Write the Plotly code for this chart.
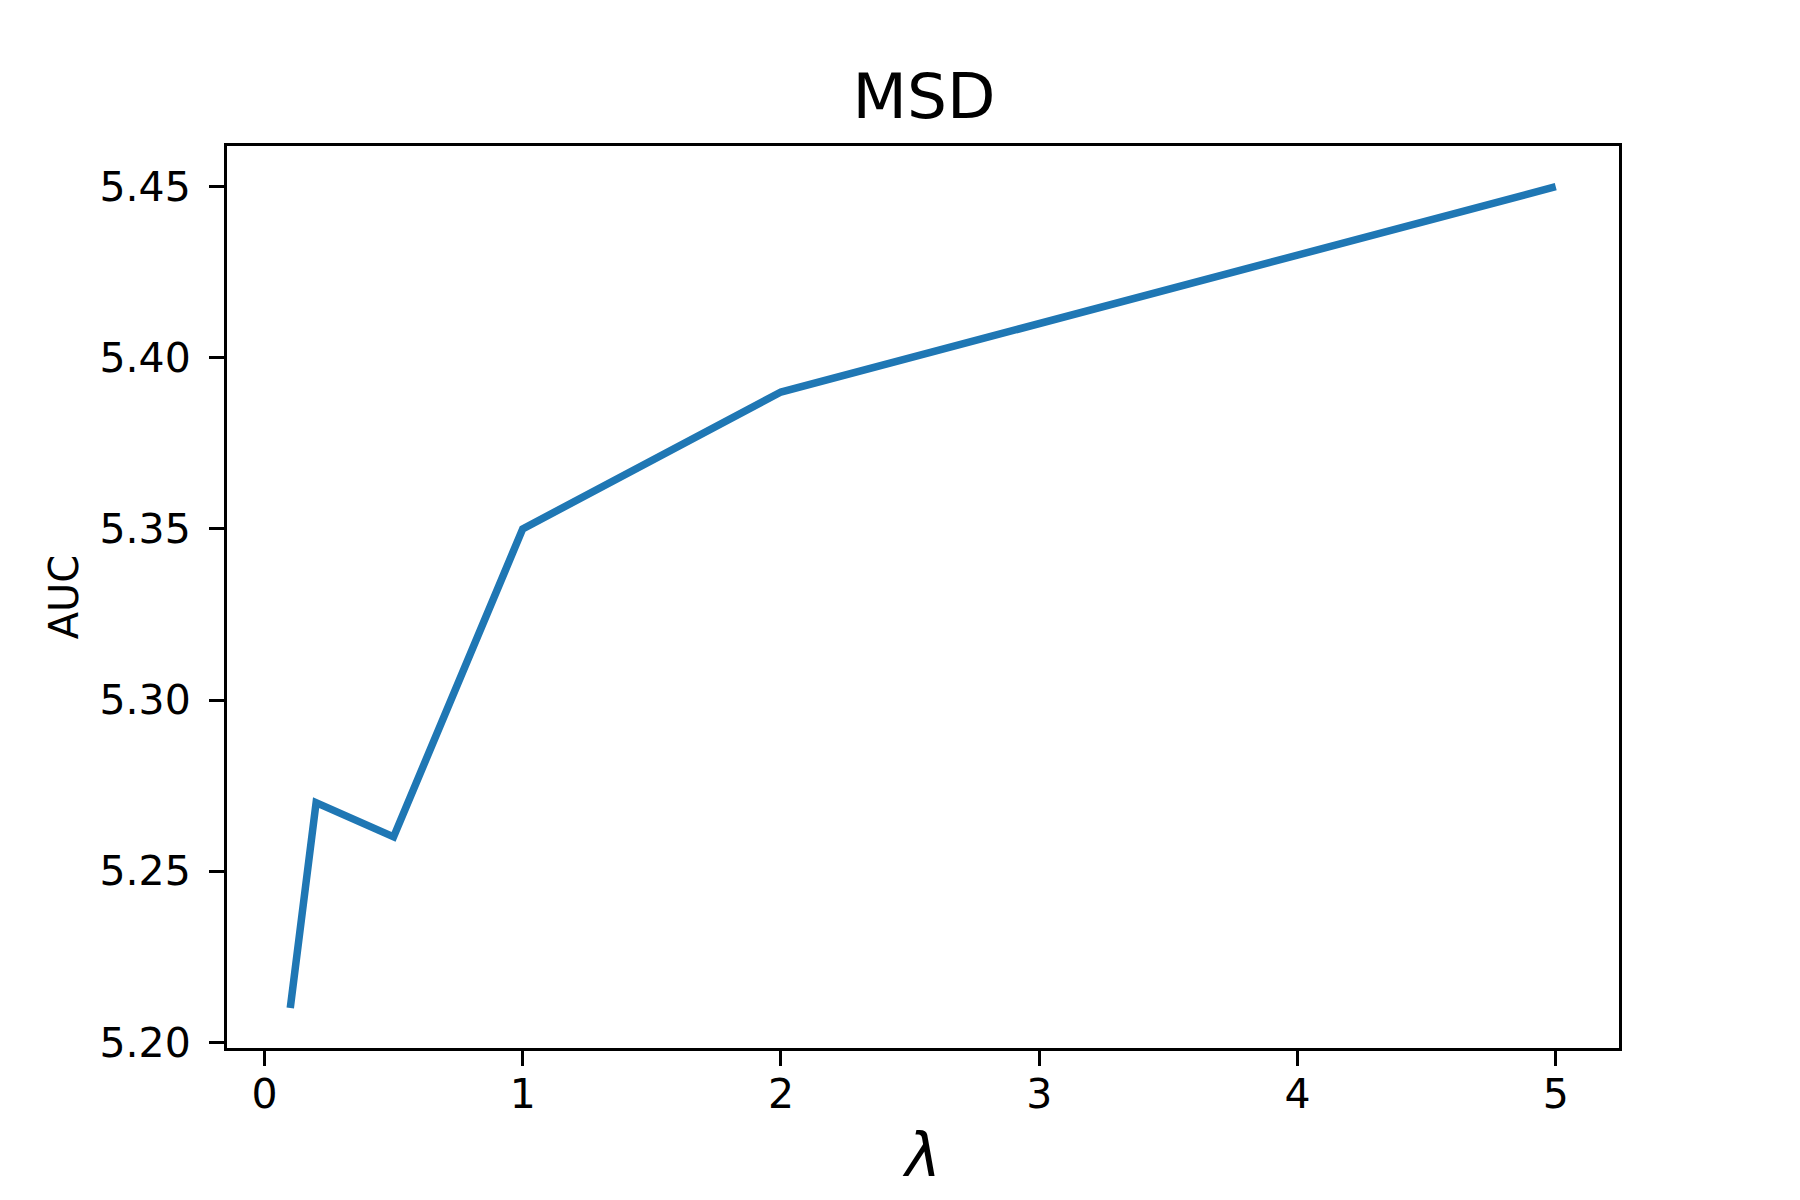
import plotly.graph_objects as go

AZUL = "#1f77b4"
FONTE = "DejaVu Sans"

lambdas = [0.1, 0.2, 0.5, 1, 2, 5]
auc = [5.21, 5.27, 5.26, 5.35, 5.39, 5.45]
x_ticks = [0, 1, 2, 3, 4, 5]
y_ticks = [5.20, 5.25, 5.30, 5.35, 5.40, 5.45]

fig = go.Figure()
fig.add_trace(go.Scatter(
    x=lambdas, y=auc,
    mode="lines",
    line=dict(color=AZUL, width=7.5),
    showlegend=False,
))

eixo = dict(
    showline=True, linecolor="black", linewidth=3, mirror=True,
    ticks="outside", ticklen=15, tickwidth=3, tickcolor="black",
    showgrid=False, zeroline=False,
    tickfont=dict(family=FONTE, size=41, color="black"),
)

# a página tem margem no body, então a figura é um pouco menor
fig.update_layout(
    width=1792, height=1192,
    paper_bgcolor="white", plot_bgcolor="white",
    margin=dict(l=219, r=181, t=138, b=152),
    title=dict(
        text="MSD", x=(922 - 6) / 1792, xanchor="center",
        y=1 - 88 / 1192, yanchor="middle",
        font=dict(family=FONTE, size=63, color="black"),
    ),
    xaxis=dict(
        eixo, range=[-0.145, 5.245], tickvals=x_ticks,
        ticklabelstandoff=-7,
        title=dict(text="<i>λ</i>", standoff=17,
                   font=dict(family=FONTE, size=60, color="black")),
        automargin=False,
    ),
    yaxis=dict(
        eixo, range=[5.1983, 5.4619], tickvals=y_ticks, tickformat=".2f",
        ticklabelstandoff=10,
        title=dict(text="AUC", standoff=9,
                   font=dict(family=FONTE, size=40, color="black")),
        automargin=False,
    ),
)

fig.write_html("out.html")
